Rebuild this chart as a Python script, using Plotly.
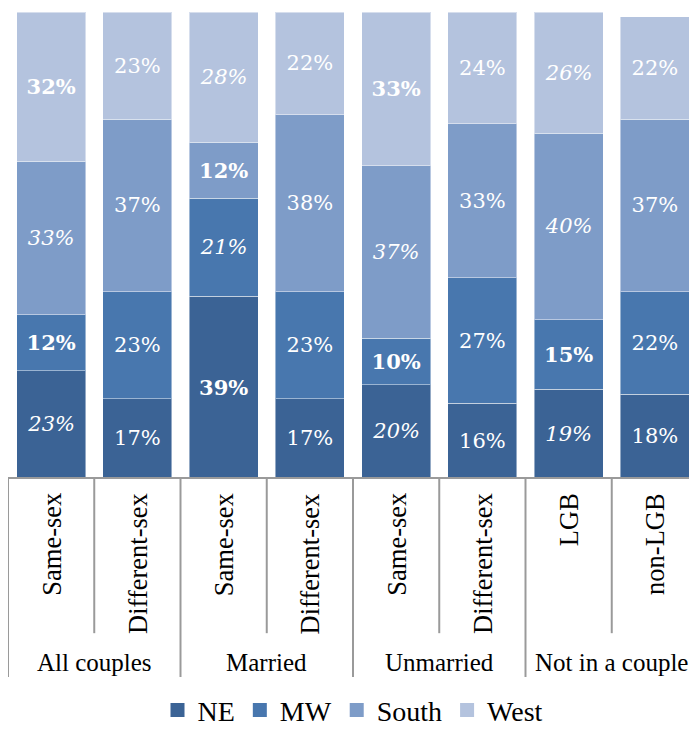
import plotly.graph_objects as go

# Share of each group living in each census region (%)
groups = ["All couples", "Married", "Unmarried", "Not in a couple"]
categories = ["Same-sex", "Different-sex", "Same-sex", "Different-sex",
              "Same-sex", "Different-sex", "LGB", "non-LGB"]
regions = ["NE", "MW", "South", "West"]

ne = [23, 17, 39, 17, 20, 16, 19, 18]
mw = [12, 23, 21, 23, 10, 27, 15, 22]
south = [33, 37, 12, 38, 37, 33, 40, 37]
west = [32, 23, 28, 22, 33, 24, 26, 22]

# label style per bar: "b" bold, "i" italic, "" plain
ne_style = ["i", "", "b", "", "i", "", "i", ""]
mw_style = ["b", "", "i", "", "b", "", "b", ""]
south_style = ["i", "", "b", "", "i", "", "i", ""]
west_style = ["b", "", "i", "", "b", "", "i", ""]

colors = ["#3b6395", "#4877ae", "#7e9cc8", "#b4c3de"]

SERIF = "Liberation Serif"
LABEL_FONT = "DejaVu Serif"


def styled(vals, styles):
    out = []
    for v, s in zip(vals, styles):
        t = f"{v}%"
        if s:
            t = f"<{s}>{t}</{s}>"
        out.append(t)
    return out


xs = list(range(len(categories)))
fig = go.Figure()
for name, vals, sty, col in zip(regions, [ne, mw, south, west],
                                [ne_style, mw_style, south_style, west_style], colors):
    fig.add_trace(go.Bar(
        x=xs, y=vals, name=name, showlegend=False,
        marker=dict(color=col, line=dict(color="rgba(255,255,255,0.45)", width=1)),
        text=styled(vals, sty), textposition="inside", insidetextanchor="middle",
        textangle=0, textfont=dict(family=LABEL_FONT, size=21, color="white"),
        hoverinfo="skip",
    ))
    # legend entry with a bigger square swatch
    fig.add_trace(go.Scatter(x=[None], y=[None], mode="markers", name=name,
                             marker=dict(symbol="square", size=14, color=col)))

# table under the bars
line_col = "#9a9a9a"
shapes = [dict(type="line", xref="x", yref="paper", x0=-0.5, x1=7.5, y0=0, y1=0,
               line=dict(color=line_col, width=2))]
for i in range(len(categories) + 1):
    bottom = -0.427 if i % 2 == 0 else -0.333
    shapes.append(dict(type="line", xref="x", yref="paper", x0=i - 0.5, x1=i - 0.5,
                       y0=0, y1=bottom, line=dict(color=line_col, width=2)))

annotations = []
for i, c in enumerate(categories):
    annotations.append(dict(x=i, y=-0.028, xref="x", yref="paper", text=c,
                            textangle=-90, showarrow=False, xanchor="center", yanchor="top",
                            font=dict(family=SERIF, size=26.5, color="black")))
for j, g in enumerate(groups):
    annotations.append(dict(x=2 * j + 0.5, y=-0.395, xref="x", yref="paper", text=g,
                            showarrow=False, xanchor="center", yanchor="middle",
                            font=dict(family=SERIF, size=25, color="black")))

fig.update_layout(
    barmode="stack", bargap=0.2,
    width=697, height=730,
    margin=dict(l=0, r=7, t=4, b=260),
    plot_bgcolor="white", paper_bgcolor="white",
    xaxis=dict(range=[-0.5, 7.5], visible=False),
    yaxis=dict(range=[0, 100], visible=False),
    shapes=shapes, annotations=annotations,
    legend=dict(orientation="h", traceorder="normal", x=0.5, xanchor="center",
                yref="container", y=0.038, yanchor="middle",
                font=dict(family=SERIF, size=28, color="black"), itemwidth=30),
)

fig.write_html("out.html")
